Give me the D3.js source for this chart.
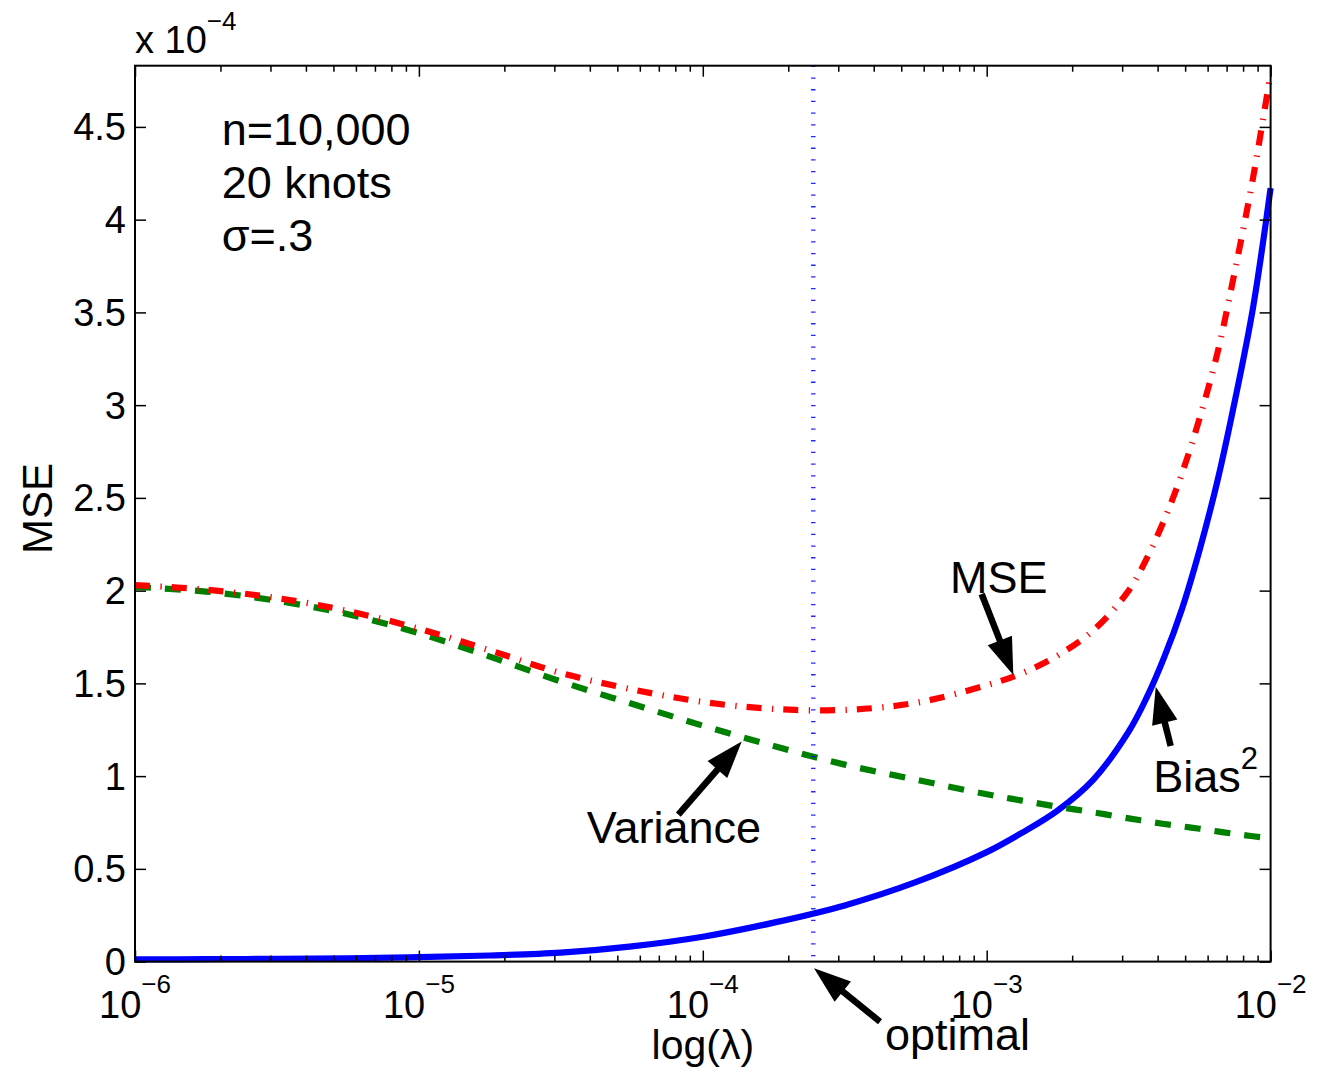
<!DOCTYPE html>
<html>
<head>
<meta charset="utf-8">
<script src="https://d3js.org/d3.v7.min.js"></script>
<style>
  html, body { margin: 0; padding: 0; background: #fff; }
  svg { display: block; }
  text { font-family: "Liberation Sans", Arial, Helvetica, sans-serif; fill: #000; }
</style>
</head>
<body>
<svg id="chart" width="1317" height="1075"></svg>
<script>
// Smoothing parameter grid (log10 of lambda)
const log10Lambda = [-6, -5.75, -5.5, -5.25, -5, -4.75, -4.5, -4.25, -4, -3.75, -3.5, -3.25,
  -3, -2.875, -2.75, -2.625, -2.5, -2.4375, -2.375, -2.3125, -2.25, -2.1875, -2.125, -2.0625, -2];

// Squared bias, variance and MSE, in units of 1e-4
const biasSq = [0.012, 0.013, 0.015, 0.018, 0.024, 0.033, 0.048, 0.082, 0.134, 0.21, 0.303, 0.428,
  0.59, 0.695, 0.815, 0.98, 1.24, 1.42, 1.64, 1.90, 2.22, 2.59, 3.03, 3.52, 4.17];
const variance = [2.02, 1.995, 1.945, 1.873, 1.77, 1.644, 1.51, 1.39, 1.272, 1.162, 1.062, 0.981,
  0.902, 0.868, 0.835, 0.805, 0.772, 0.757, 0.742, 0.729, 0.716, 0.702, 0.688, 0.676, 0.665];
const mse = [2.03, 2.005, 1.96, 1.89, 1.795, 1.678, 1.556, 1.468, 1.40, 1.362, 1.357, 1.395,
  1.49, 1.555, 1.65, 1.785, 2.0, 2.17, 2.38, 2.63, 2.93, 3.28, 3.73, 4.22, 4.79];

// Lambda minimising the MSE
const optimalLambda = 2.45e-4;

// Axis ticks
const xTickExponents = [-6, -5, -4, -3, -2];
const yTicks = [0, 0.5, 1, 1.5, 2, 2.5, 3, 3.5, 4, 4.5];
const yScaleExponent = -4;

// Text annotations (lambda, value in 1e-4 units)
const infoLines = [
  { text: "n=10,000", lambda: 2.02e-6, v: 4.40 },
  { text: "20 knots", lambda: 2.02e-6, v: 4.115 },
  { text: "\u03C3=.3",  lambda: 2.02e-6, v: 3.83 }
];
const labels = [
  { text: "Variance", sup: null, lambda: 3.9e-5,   v: 0.638 },
  { text: "MSE",      sup: null, lambda: 7.42e-4,  v: 1.986 },
  { text: "Bias",     sup: "2",  lambda: 3.862e-3, v: 0.916 },
  { text: "optimal",  sup: null, lambda: 4.383e-4, v: -0.4766 }
];
const arrows = [
  { from: [8.2e-5, 0.793],   to: [1.371e-4, 1.186] },
  { from: [9.6e-4, 1.982],   to: [1.241e-3, 1.545] },
  { from: [4.446e-3, 1.162], to: [3.94e-3, 1.482] },
  { from: [4.21e-4, -0.324], to: [2.464e-4, -0.036] }
];

const svg = d3.select("#chart");
const W = 1317, H = 1075;
const plot = { left: 135, right: 1270.6, top: 65.7, bottom: 961.6 };

svg.append("rect").attr("width", W).attr("height", H).attr("fill", "#fff");

const x = d3.scaleLog().domain([1e-6, 1e-2]).range([plot.left, plot.right]);
const y = d3.scaleLinear().domain([0, 4.83]).range([plot.bottom, plot.top]);

const lambdas = log10Lambda.map(e => Math.pow(10, e));
const majorX = xTickExponents.map(e => Math.pow(10, e));
const minorX = [];
for (let e = -6; e < -2; e++) for (let k = 2; k <= 9; k++) minorX.push(k * Math.pow(10, e));

// Curves
const line = d3.line().x(d => x(d[0])).y(d => y(d[1])).curve(d3.curveCatmullRom.alpha(0.5));
const series = [
  { values: biasSq,   color: "#0000ff", dash: null },
  { values: variance, color: "#008000", dash: "16,14" },
  { values: mse,      color: "#ff0000", dash: "15,10.5,1.3,10" }
];
const curves = svg.append("g");
series.forEach(s => {
  curves.append("path")
    .datum(lambdas.map((l, i) => [l, s.values[i]]))
    .attr("d", line)
    .attr("fill", "none")
    .attr("stroke", s.color)
    .attr("stroke-width", 6.2)
    .attr("stroke-linecap", "butt")
    .attr("stroke-dasharray", s.dash);
});

// Optimal lambda marker
svg.append("line")
  .attr("x1", x(optimalLambda)).attr("x2", x(optimalLambda))
  .attr("y1", plot.top).attr("y2", plot.bottom)
  .attr("stroke", "#0000ff").attr("stroke-opacity", 0.85)
  .attr("stroke-width", 4.5)
  .attr("stroke-dasharray", "1.3,10.4");

// Axes (ticks point inward on all four sides)
function styleAxis(g) {
  g.select(".domain").remove();
  g.selectAll(".tick line").attr("stroke", "#000").attr("stroke-width", 1.5);
}
const noLabel = () => "";
svg.append("g").attr("transform", `translate(0,${plot.bottom})`)
  .call(d3.axisBottom(x).tickValues(majorX).tickSize(-11).tickFormat(noLabel)).call(styleAxis);
svg.append("g").attr("transform", `translate(0,${plot.bottom})`)
  .call(d3.axisBottom(x).tickValues(minorX).tickSize(-6).tickFormat(noLabel)).call(styleAxis);
svg.append("g").attr("transform", `translate(0,${plot.top})`)
  .call(d3.axisTop(x).tickValues(majorX).tickSize(-11).tickFormat(noLabel)).call(styleAxis);
svg.append("g").attr("transform", `translate(0,${plot.top})`)
  .call(d3.axisTop(x).tickValues(minorX).tickSize(-6).tickFormat(noLabel)).call(styleAxis);
svg.append("g").attr("transform", `translate(${plot.left},0)`)
  .call(d3.axisLeft(y).tickValues(yTicks).tickSize(-11).tickPadding(9).tickFormat(d => String(d)))
  .call(styleAxis)
  .call(g => g.selectAll(".tick text")
    .attr("font-size", 38).attr("font-family", "'Liberation Sans', Arial, sans-serif")
    .attr("fill", "#000").attr("dy", "0.34em"));
svg.append("g").attr("transform", `translate(${plot.right},0)`)
  .call(d3.axisRight(y).tickValues(yTicks).tickSize(-11).tickFormat(noLabel)).call(styleAxis);

// Axes box
svg.append("rect")
  .attr("x", plot.left).attr("y", plot.top)
  .attr("width", plot.right - plot.left).attr("height", plot.bottom - plot.top)
  .attr("fill", "none").attr("stroke", "#000").attr("stroke-width", 2);

// X tick labels: 10 with superscript exponent
xTickExponents.forEach(e => {
  const t = svg.append("text")
    .attr("x", x(Math.pow(10, e))).attr("y", plot.bottom + 56.7)
    .attr("text-anchor", "middle").attr("font-size", 38);
  t.append("tspan").text("10");
  t.append("tspan").attr("dy", -25).attr("font-size", 26).text("\u2212" + Math.abs(e));
});

// Y exponent multiplier
const mult = svg.append("text").attr("x", plot.left).attr("y", 53).attr("font-size", 38);
mult.append("tspan").text("x 10");
mult.append("tspan").attr("dy", -23).attr("font-size", 26).text("\u2212" + Math.abs(yScaleExponent));

// Axis titles
svg.append("text")
  .attr("x", (plot.left + plot.right) / 2).attr("y", 1059)
  .attr("text-anchor", "middle").attr("font-size", 41)
  .text("log(\u03BB)");
svg.append("text")
  .attr("transform", "translate(52,508.5) rotate(-90)")
  .attr("text-anchor", "middle").attr("font-size", 42)
  .text("MSE");

// Info text block
infoLines.forEach(d => {
  svg.append("text").attr("x", x(d.lambda)).attr("y", y(d.v))
    .attr("font-size", 45).text(d.text);
});

// Curve labels
labels.forEach(d => {
  const t = svg.append("text").attr("x", x(d.lambda)).attr("y", y(d.v)).attr("font-size", 45);
  t.append("tspan").text(d.text);
  if (d.sup) t.append("tspan").attr("dy", -23).attr("font-size", 31).text(d.sup);
});

// Arrows
const headLen = 37, headW = 26;
arrows.forEach(a => {
  const x0 = x(a.from[0]), y0 = y(a.from[1]);
  const x1 = x(a.to[0]), y1 = y(a.to[1]);
  const dx = x1 - x0, dy = y1 - y0, len = Math.hypot(dx, dy);
  const ux = dx / len, uy = dy / len, px = -uy, py = ux;
  const bx = x1 - ux * headLen, by = y1 - uy * headLen;
  svg.append("line")
    .attr("x1", x0).attr("y1", y0).attr("x2", bx + ux * 2).attr("y2", by + uy * 2)
    .attr("stroke", "#000").attr("stroke-width", 6.5);
  svg.append("path")
    .attr("d", `M${x1},${y1}L${bx + px * headW / 2},${by + py * headW / 2}L${bx - px * headW / 2},${by - py * headW / 2}Z`)
    .attr("fill", "#000");
});
</script>
</body>
</html>
